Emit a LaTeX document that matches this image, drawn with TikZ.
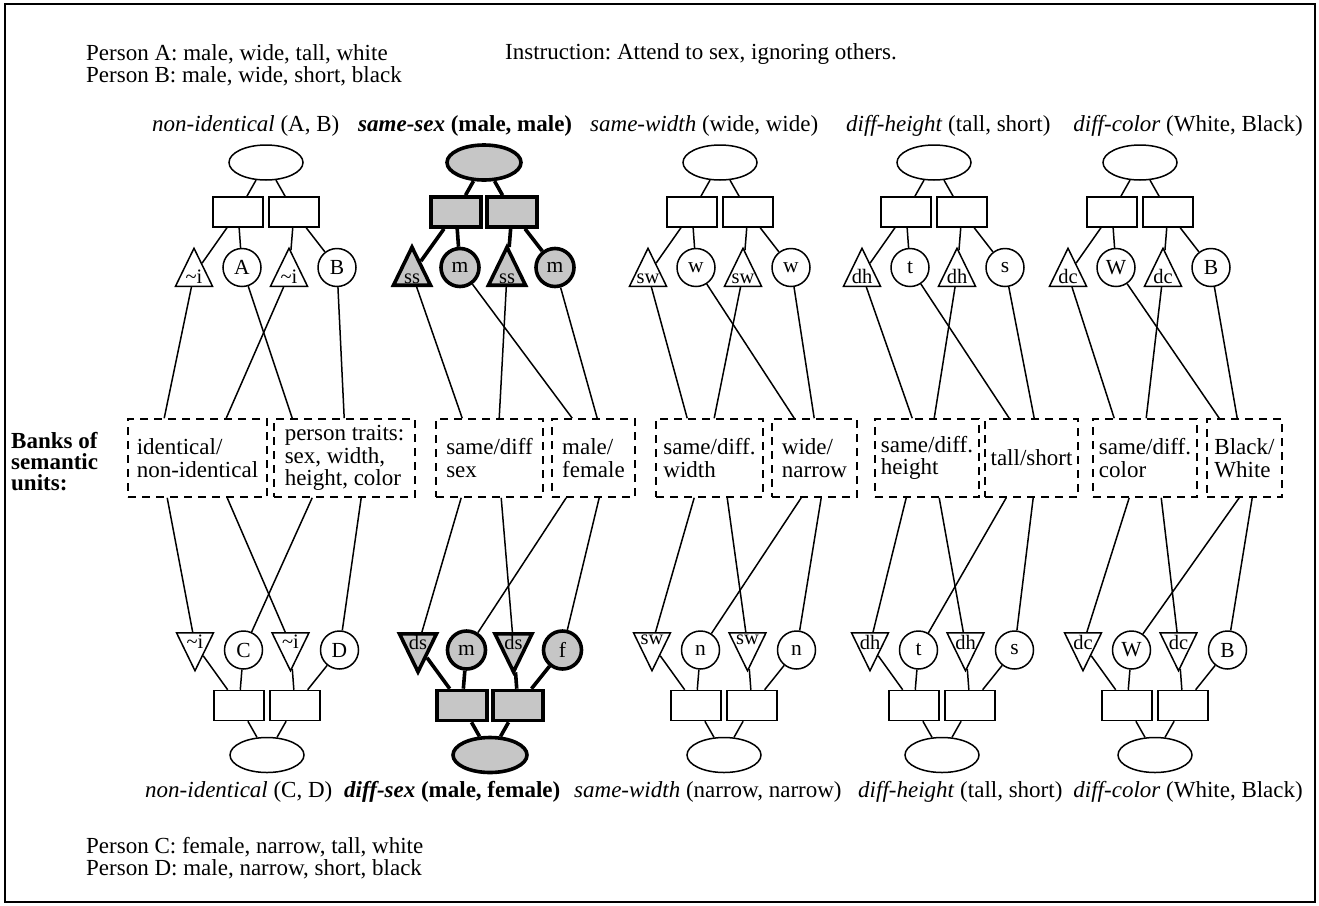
\documentclass[tikz,border=0pt]{standalone}
\usepackage{fontspec}
\setmainfont{Liberation Serif}
\usetikzlibrary{shapes.geometric}
\definecolor{shade}{RGB}{198,198,198}
\frenchspacing
\begin{document}
\begin{tikzpicture}[x=1pt,y=-1pt,
  font=\fontsize{23}{23}\selectfont,
  conn/.style={line width=1.5pt},
  thk/.style={line width=3.6pt},
  ovl/.style={ellipse, draw, line width=1.5pt, minimum width=74pt, minimum height=35pt, inner sep=0pt},
  box/.style={rectangle, draw, line width=1.5pt, minimum width=50pt, minimum height=30pt, inner sep=0pt},
  rnd/.style={circle, draw, line width=1.5pt, minimum size=38pt, inner sep=0pt, font=\fontsize{21.5}{21.5}\selectfont},
  tri/.style={isosceles triangle, isosceles triangle stretches, draw, line width=1.5pt, minimum width=37pt, minimum height=38pt, inner sep=0pt, anchor=lower side},
  triup/.style={tri, shape border rotate=90},
  tridn/.style={tri, shape border rotate=270},
  hot/.style={fill=shade, line width=3.6pt},
  tlab/.style={inner sep=0pt, font=\fontsize{20.5}{20.5}\selectfont},
  bank/.style={rectangle, draw, line width=1.6pt, dash pattern=on 8pt off 6pt, minimum height=78pt, inner sep=0pt, align=left, font=\fontsize{23}{22.5}\selectfont},
  txt/.style={inner sep=0pt, anchor=west, align=left},
]
\useasboundingbox (0,0) rectangle (1319,905);
\draw[line width=2pt] (5,4) rectangle (1315,902);

% header and footer texts
\node[txt] (pa) at (86,54) {Person A: male, wide, tall, white};
\node[txt] (pb) at (86,76) {Person B: male, wide, short, black};
\node[txt] (ins) at (505,54) {Instruction: Attend to sex, ignoring others.};
\node[txt] (pc) at (86,847) {Person C: female, narrow, tall, white};
\node[txt] (pd) at (86,869) {Person D: male, narrow, short, black};

% top labels
\node[txt] (lt1) at (152,126) {\textit{non-identical} (A, B)};
\node[txt] (lt2) at (358,126) {\textbf{\textit{same-sex} (male, male)}};
\node[txt] (lt3) at (590,126) {\textit{same-width} (wide, wide)};
\node[txt] (lt4) at (846,126) {\textit{diff-height} (tall, short)};
\node[txt, anchor=east] (lt5) at (1303,126) {\textit{diff-color} (White, Black)};
% bottom labels
\node[txt] (lb1) at (145,792) {\textit{non-identical} (C, D)};
\node[txt] (lb2) at (344,792) {\textbf{\textit{diff-sex} (male, female)}};
\node[txt] (lb3) at (574,792) {\textit{same-width} (narrow, narrow)};
\node[txt] (lb4) at (858,792) {\textit{diff-height} (tall, short)};
\node[txt, anchor=east] (lb5) at (1303,792) {\textit{diff-color} (White, Black)};

% banks
\node[txt, font=\fontsize{23}{21}\selectfont\bfseries] (bk) at (11,462) {Banks of\\semantic\\units:};
\node[bank, minimum width=139pt] (bl1) at (197.5,458) {identical/\\non-identical};
\node[bank, minimum width=141pt] (br1) at (344.5,458) {person traits:\\sex, width,\\height, color};
\node[bank, minimum width=107pt] (bl2) at (489.5,458) {same/diff\\sex};
\node[bank, minimum width=83pt] (br2) at (593.5,458) {male/\\female};
\node[bank, minimum width=107pt] (bl3) at (709.5,458) {same/diff.\\width};
\node[bank, minimum width=85pt] (br3) at (814.5,458) {wide/\\narrow};
\node[bank, minimum width=104pt] (bl4) at (927,458) {same/diff.\\height};
\node[bank, minimum width=93pt] (br4) at (1031.5,458) {tall/short};
\node[bank, minimum width=104pt] (bl5) at (1145,458) {same/diff.\\color};
\node[bank, minimum width=75pt] (br5) at (1244.5,458) {Black/\\White};

% top groups (plain)
\foreach \g/\X/\La/\Lb/\Lc in {1/266/{\textasciitilde i}/A/B, 3/720/sw/w/w, 4/934/dh/t/s, 5/1140/dc/W/B} {
  \node[ovl] (e\g) at (\X,162.5) {};
  \node[box] (ra\g) at ({\X-28},212) {};
  \node[box] (rb\g) at ({\X+28},212) {};
  \node[triup] (ta\g) at ({\X-72},287) {};
  \node[rnd] (ca\g) at ({\X-24},267.5) {\Lb};
  \node[triup] (tb\g) at ({\X+23},287) {};
  \node[rnd] (cb\g) at ({\X+71},267.5) {\Lc};
  \node[tlab, anchor=south] (tla\g) at ([yshift=3pt]ta\g.lower side) {\La};
  \node[tlab, anchor=south] (tlb\g) at ([yshift=3pt]tb\g.lower side) {\La};
  \draw[conn] (e\g) -- (ra\g);
  \draw[conn] (e\g) -- (rb\g);
  \draw[conn] (ra\g) -- (ta\g);
  \draw[conn] (ra\g) -- (ca\g);
  \draw[conn] (rb\g) -- (tb\g);
  \draw[conn] (rb\g) -- (cb\g);
}
% top group 2 (highlighted)
\node[ovl, hot] (e2) at (484,162.5) {};
\node[box, hot] (ra2) at (456,212) {};
\node[box, hot] (rb2) at (512,212) {};
\node[triup, hot] (ta2) at (412,287) {};
\node[rnd, hot] (ca2) at (460,267.5) {m};
\node[triup, hot] (tb2) at (507,287) {};
\node[rnd, hot] (cb2) at (555,267.5) {m};
\node[tlab, anchor=south] (tla2) at ([yshift=3pt]ta2.lower side) {ss};
\node[tlab, anchor=south] (tlb2) at ([yshift=3pt]tb2.lower side) {ss};
\draw[thk] (e2) -- (ra2);
\draw[thk] (e2) -- (rb2);
\draw[thk] (ra2) -- (ta2);
\draw[thk] (ra2) -- (ca2);
\draw[thk] (rb2) -- (tb2);
\draw[thk] (rb2) -- (cb2);

% bottom groups (plain)
\foreach \g/\X/\La/\Lb/\Lc in {1/267/{\textasciitilde i}/C/D, 3/724/sw/n/n, 4/942/dh/t/s, 5/1155/dc/W/B} {
  \node[ovl] (se\g) at (\X,755) {};
  \node[box] (sra\g) at ({\X-28},705.5) {};
  \node[box] (srb\g) at ({\X+28},705.5) {};
  \node[tridn] (sta\g) at ({\X-72},632) {};
  \node[rnd] (sca\g) at ({\X-23.5},650) {\Lb};
  \node[tridn] (stb\g) at ({\X+23.5},632) {};
  \node[rnd] (scb\g) at ({\X+72.5},650) {\Lc};
  \node[tlab, anchor=north] (stla\g) at ([yshift=-3pt]sta\g.lower side) {\La};
  \node[tlab, anchor=north] (stlb\g) at ([yshift=-3pt]stb\g.lower side) {\La};
  \draw[conn] (se\g) -- (sra\g);
  \draw[conn] (se\g) -- (srb\g);
  \draw[conn] (sra\g) -- (sta\g);
  \draw[conn] (sra\g) -- (sca\g);
  \draw[conn] (srb\g) -- (stb\g);
  \draw[conn] (srb\g) -- (scb\g);
}
% bottom group 2 (highlighted)
\node[ovl, hot] (se2) at (490,755) {};
\node[box, hot] (sra2) at (462,705.5) {};
\node[box, hot] (srb2) at (518,705.5) {};
\node[tridn, hot] (sta2) at (418,632) {};
\node[rnd, hot] (sca2) at (466.5,650) {m};
\node[tridn, hot] (stb2) at (513.5,632) {};
\node[rnd, hot] (scb2) at (562.5,650) {f};
\node[tlab, anchor=north] (stla2) at ([yshift=-3pt]sta2.lower side) {ds};
\node[tlab, anchor=north] (stlb2) at ([yshift=-3pt]stb2.lower side) {ds};
\draw[thk] (se2) -- (sra2);
\draw[thk] (se2) -- (srb2);
\draw[thk] (sra2) -- (sta2);
\draw[thk] (sra2) -- (sca2);
\draw[thk] (srb2) -- (stb2);
\draw[thk] (srb2) -- (scb2);

% top row to banks
\foreach \g/\p/\q/\r/\s in {1/37/19/99/71, 2/27/21/64/46, 3/32/23/59/43, 4/38/25/60/50, 5/22/13/54/31} {
  \draw[conn] (ta\g) -- ([xshift=\p]bl\g.north west);
  \draw[conn] (ca\g) -- ([xshift=\q]br\g.north west);
  \draw[conn] (tb\g) -- ([xshift=\r]bl\g.north west);
  \draw[conn] (cb\g) -- ([xshift=\s]br\g.north west);
}
% banks to bottom row
\foreach \g/\p/\q/\r/\s in {1/40/39/100/88, 2/26/15/66/48, 3/39/30/72/50, 4/32/22/65/49, 5/37/33/69/46} {
  \draw[conn] ([xshift=\p]bl\g.south west) -- (sta\g);
  \draw[conn] ([xshift=\q]br\g.south west) -- (sca\g);
  \draw[conn] ([xshift=\r]bl\g.south west) -- (stb\g);
  \draw[conn] ([xshift=\s]br\g.south west) -- (scb\g);
}
\end{tikzpicture}
\end{document}
